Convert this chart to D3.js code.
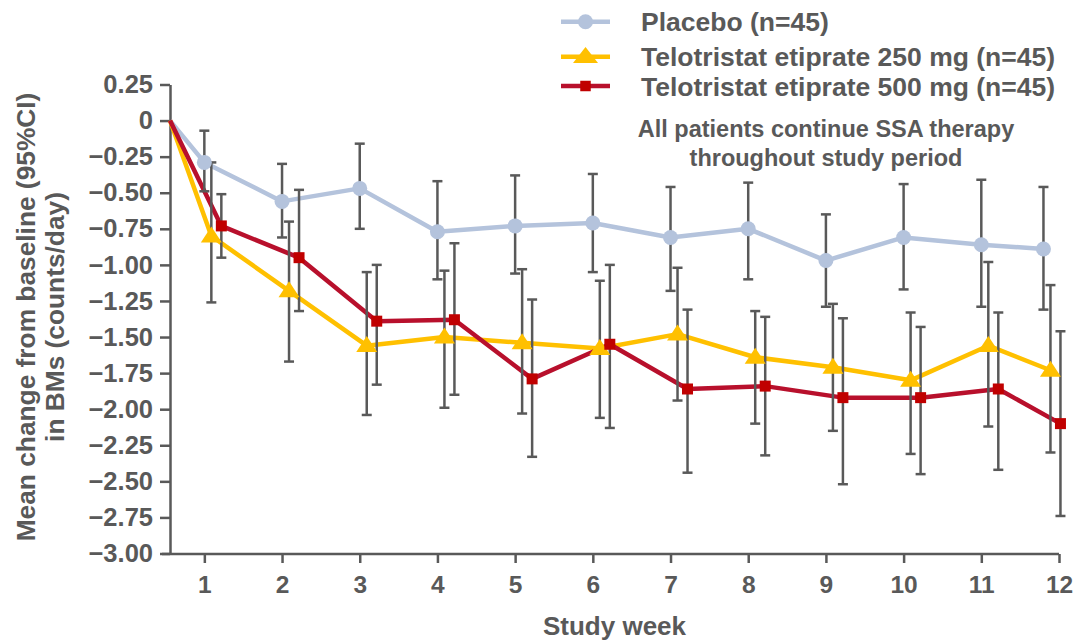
<!DOCTYPE html>
<html>
<head>
<meta charset="utf-8">
<script src="https://cdn.jsdelivr.net/npm/d3@7"></script>
<style>
  body { margin: 0; background: #fff; }
  svg { display: block; }
  text { font-family: "Liberation Sans", Arial, sans-serif; font-weight: bold; fill: #595959; }
</style>
</head>
<body>
<div id="chart"></div>
<script>
// study weeks and where each week is drawn on the axis
const weeks = [1, 2, 3, 4, 5, 6, 7, 8, 9, 10, 11, 12];
const weekPos = [1, 2, 3, 4, 5, 6, 7, 8, 9, 10, 11, 11.8];
const baselineWeek = 0.558;

// Placebo (n=45)
const placeboMean = [-0.29, -0.56, -0.47, -0.77, -0.73, -0.71, -0.81, -0.75, -0.97, -0.81, -0.86, -0.89];
const placeboLow  = [-0.49, -0.81, -0.75, -1.10, -1.06, -1.05, -1.18, -1.10, -1.29, -1.17, -1.29, -1.31];
const placeboHigh = [-0.07, -0.30, -0.16, -0.42, -0.38, -0.37, -0.46, -0.43, -0.65, -0.44, -0.41, -0.46];

// Telotristat etiprate 250 mg (n=45)
const t250Mean = [-0.80, -1.18, -1.56, -1.50, -1.54, -1.58, -1.48, -1.64, -1.71, -1.80, -1.56, -1.73];
const t250Low  = [-1.26, -1.67, -2.04, -1.99, -2.03, -2.06, -1.94, -2.10, -2.15, -2.31, -2.12, -2.30];
const t250High = [-0.29, -0.70, -1.05, -1.04, -1.03, -1.11, -1.02, -1.32, -1.27, -1.33, -0.98, -1.14];

// Telotristat etiprate 500 mg (n=45)
const t500Mean = [-0.73, -0.95, -1.39, -1.38, -1.79, -1.55, -1.86, -1.84, -1.92, -1.92, -1.86, -2.10];
const t500Low  = [-0.95, -1.32, -1.83, -1.90, -2.33, -2.13, -2.44, -2.32, -2.52, -2.45, -2.42, -2.74];
const t500High = [-0.51, -0.48, -1.00, -0.85, -1.24, -1.00, -1.31, -1.36, -1.37, -1.43, -1.33, -1.46];

const yTicks = [0.25, 0, -0.25, -0.5, -0.75, -1, -1.25, -1.5, -1.75, -2, -2.25, -2.5, -2.75, -3];
const yTickLabels = ["0.25", "0", "\u22120.25", "\u22120.50", "\u22120.75", "\u22121.00", "\u22121.25", "\u22121.50",
    "\u22121.75", "\u22122.00", "\u22122.25", "\u22122.50", "\u22122.75", "\u22123.00"];

const seriesNames = ["Placebo (n=45)", "Telotristat etiprate 250 mg (n=45)", "Telotristat etiprate 500 mg (n=45)"];
const note = ["All patients continue SSA therapy", "throughout study period"];

const GREY = "#595959";
const series = [
    { name: seriesNames[0], mean: placeboMean, low: placeboLow, high: placeboHigh, color: "#b4c3dc", fill: "#b4c3dc", shape: "circle", dodge: 0 },
    { name: seriesNames[1], mean: t250Mean, low: t250Low, high: t250High, color: "#ffc000", fill: "#ffc000", shape: "triangle", dodge: 7 },
    { name: seriesNames[2], mean: t500Mean, low: t500Low, high: t500High, color: "#b8102c", fill: "#c00000", shape: "square", dodge: 17 }
];

const W = 1075, H = 642;
const svg = d3.select("#chart").append("svg")
    .attr("width", W)
    .attr("height", H)
    .attr("viewBox", [0, 0, W, H]);

const xScale = d3.scaleLinear([baselineWeek, 12], [170, 1059]);
const yScale = d3.scaleLinear([-3, 0.25], [553.5, 84.5]);

// marker shapes
function marker(shape, big) {
    const p = d3.path();
    if (shape === "circle") {
        p.arc(0, 0, 7.5, 0, 2 * Math.PI);
    } else if (shape === "triangle") {
        const w = big ? 25 : 21, h = 16;
        p.moveTo(0, -h * 0.6);
        p.lineTo(w / 2, h * 0.4);
        p.lineTo(-w / 2, h * 0.4);
        p.closePath();
    } else {
        const s = big ? 10.5 : 11;
        p.rect(-s / 2, -s / 2, s, s);
    }
    return p.toString();
}

// Y axis
const yAxis = svg.append("g")
    .attr("transform", "translate(170,0)")
    .call(d3.axisLeft(yScale)
        .tickValues(yTicks)
        .tickSize(10)
        .tickSizeOuter(0)
        .tickPadding(7)
        .tickFormat((d, i) => yTickLabels[i]));
yAxis.selectAll("line, path").attr("stroke", GREY).attr("stroke-width", 2.5);
yAxis.selectAll("text")
    .attr("font-size", 25.5)
    .attr("fill", GREY)
    .attr("font-family", "Liberation Sans, Arial, sans-serif")
    .attr("font-weight", "bold");

// X axis
const xAxis = svg.append("g")
    .attr("transform", "translate(0,554)")
    .call(d3.axisBottom(xScale)
        .tickValues(weeks)
        .tickSize(9)
        .tickSizeOuter(0)
        .tickPadding(13)
        .tickFormat(d => d));
xAxis.select(".domain").remove();
xAxis.append("line")
    .attr("x1", xScale.range()[0] - 8)
    .attr("x2", xScale.range()[1])
    .attr("stroke", GREY)
    .attr("stroke-width", 2.5);
xAxis.selectAll("line").attr("stroke", GREY).attr("stroke-width", 2.5);
xAxis.selectAll(".tick text")
    .attr("font-size", 24.5)
    .attr("fill", GREY)
    .attr("font-family", "Liberation Sans, Arial, sans-serif")
    .attr("font-weight", "bold");

// axis titles
svg.append("text")
    .attr("x", d3.mean(xScale.range()))
    .attr("y", 635)
    .attr("text-anchor", "middle")
    .attr("font-size", 26)
    .text("Study week");

const yTitle = svg.append("text")
    .attr("transform", "translate(0,317) rotate(-90)")
    .attr("text-anchor", "middle")
    .attr("font-size", 26.3);
yTitle.append("tspan").attr("x", 0).attr("y", 35).text("Mean change from baseline (95%CI)");
yTitle.append("tspan").attr("x", 0).attr("y", 64).text("in BMs (counts/day)");

// lines from baseline
const line = d3.line()
    .x(d => xScale(d[0]) + d[2])
    .y(d => yScale(d[1]));

for (const s of series) {
    const pts = [[baselineWeek, 0, 0]].concat(s.mean.map((v, i) => [weekPos[i], v, s.dodge]));
    svg.append("path")
        .datum(pts)
        .attr("fill", "none")
        .attr("stroke", s.color)
        .attr("stroke-width", 4.5)
        .attr("stroke-linejoin", "round")
        .attr("d", line);
}

// error bars
for (const s of series) {
    const g = svg.append("g")
        .attr("stroke", GREY)
        .attr("stroke-width", 2.5);
    s.mean.forEach((_, i) => {
        const cx = xScale(weekPos[i]) + s.dodge;
        g.append("line").attr("x1", cx).attr("x2", cx)
            .attr("y1", yScale(s.high[i])).attr("y2", yScale(s.low[i]));
        for (const v of [s.high[i], s.low[i]]) {
            g.append("line").attr("x1", cx - 5).attr("x2", cx + 5)
                .attr("y1", yScale(v)).attr("y2", yScale(v));
        }
    });
}

// markers
for (const s of series) {
    svg.append("g").selectAll("path")
        .data(s.mean)
        .join("path")
        .attr("transform", (d, i) => `translate(${xScale(weekPos[i]) + s.dodge},${yScale(d)})`)
        .attr("fill", s.fill)
        .attr("d", marker(s.shape, false));
}

// legend
const legendY = [21.7, 56.7, 86];
const legend = svg.append("g");
series.forEach((s, i) => {
    const row = legend.append("g").attr("transform", `translate(0,${legendY[i]})`);
    row.append("line")
        .attr("x1", 561).attr("x2", 610)
        .attr("stroke", s.color)
        .attr("stroke-width", 4.5);
    row.append("path")
        .attr("transform", "translate(585.5,0)")
        .attr("fill", s.fill)
        .attr("d", marker(s.shape, true));
    row.append("text")
        .attr("x", 641)
        .attr("y", 9.5)
        .attr("font-size", 26.5)
        .text(s.name);
});

// note
svg.append("text")
    .attr("x", 826)
    .attr("y", 137)
    .attr("text-anchor", "middle")
    .attr("font-size", 23.5)
    .selectAll("tspan")
    .data(note)
    .join("tspan")
    .attr("x", 826)
    .attr("dy", (d, i) => i ? 28.5 : 0)
    .text(d => d);
</script>
</body>
</html>
